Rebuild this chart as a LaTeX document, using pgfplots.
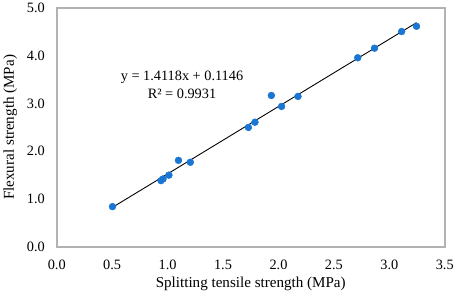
\documentclass[border=0pt]{standalone}
\usepackage{pgfplots}
\pgfplotsset{compat=1.18}
\usepackage{fontspec}
\setmainfont{Liberation Serif}
\definecolor{ptblue}{RGB}{25,118,210}
\definecolor{framegray}{RGB}{178,178,178}
\begin{document}
\begin{tikzpicture}
\begin{axis}[
  scale only axis,
  width=392bp, height=241bp,
  xmin=0, xmax=3.5, ymin=0, ymax=5,
  xtick={0,0.5,...,3.5}, ytick={0,1,...,5},
  /pgf/number format/assume math mode=true,
  /pgf/number format/fixed, /pgf/number format/fixed zerofill,
  /pgf/number format/precision=1,
  tick label style={font=\fontsize{14.5}{17}\selectfont},
  major tick length=0pt,
  tick style={draw=none},
  axis line style={draw=none},
  every axis x label/.style={at={(axis description cs:0.5,-0.155)}, anchor=center, font=\fontsize{15.3}{17}\selectfont},
  every axis y label/.style={at={(axis description cs:-0.12,0.5)}, rotate=90, anchor=center, font=\fontsize{15.3}{17}\selectfont},
  xlabel={Splitting tensile strength (MPa)},
  ylabel={Flexural strength (MPa)},
  xticklabel style={anchor=center, yshift=-18bp},
  yticklabel style={anchor=east, xshift=-8.5bp},
  clip=false,
]
\draw[framegray, line width=2bp] (rel axis cs:0,0) rectangle (rel axis cs:1,1);
\addplot[only marks, mark=*, mark size=3.5bp, ptblue, mark options={draw=ptblue, fill=ptblue}] coordinates {
(0.503,0.84) (0.941,1.385) (0.959,1.42) (1.012,1.50) (1.098,1.81)
(1.205,1.77) (1.729,2.50) (1.788,2.61) (1.936,3.17) (2.028,2.94)
(2.176,3.15) (2.715,3.96) (2.866,4.16) (3.111,4.51) (3.245,4.62)
};
\addplot[black, line width=0.9bp] coordinates {(0.5,0.8205) (3.245,4.6959)};
\node[font=\fontsize{14.5}{17}\selectfont, align=center, inner sep=0pt] at (axis cs:1.13,3.40) {y = 1.4118x + 0.1146\\[1bp]R² = 0.9931};
\end{axis}
\end{tikzpicture}
\end{document}
